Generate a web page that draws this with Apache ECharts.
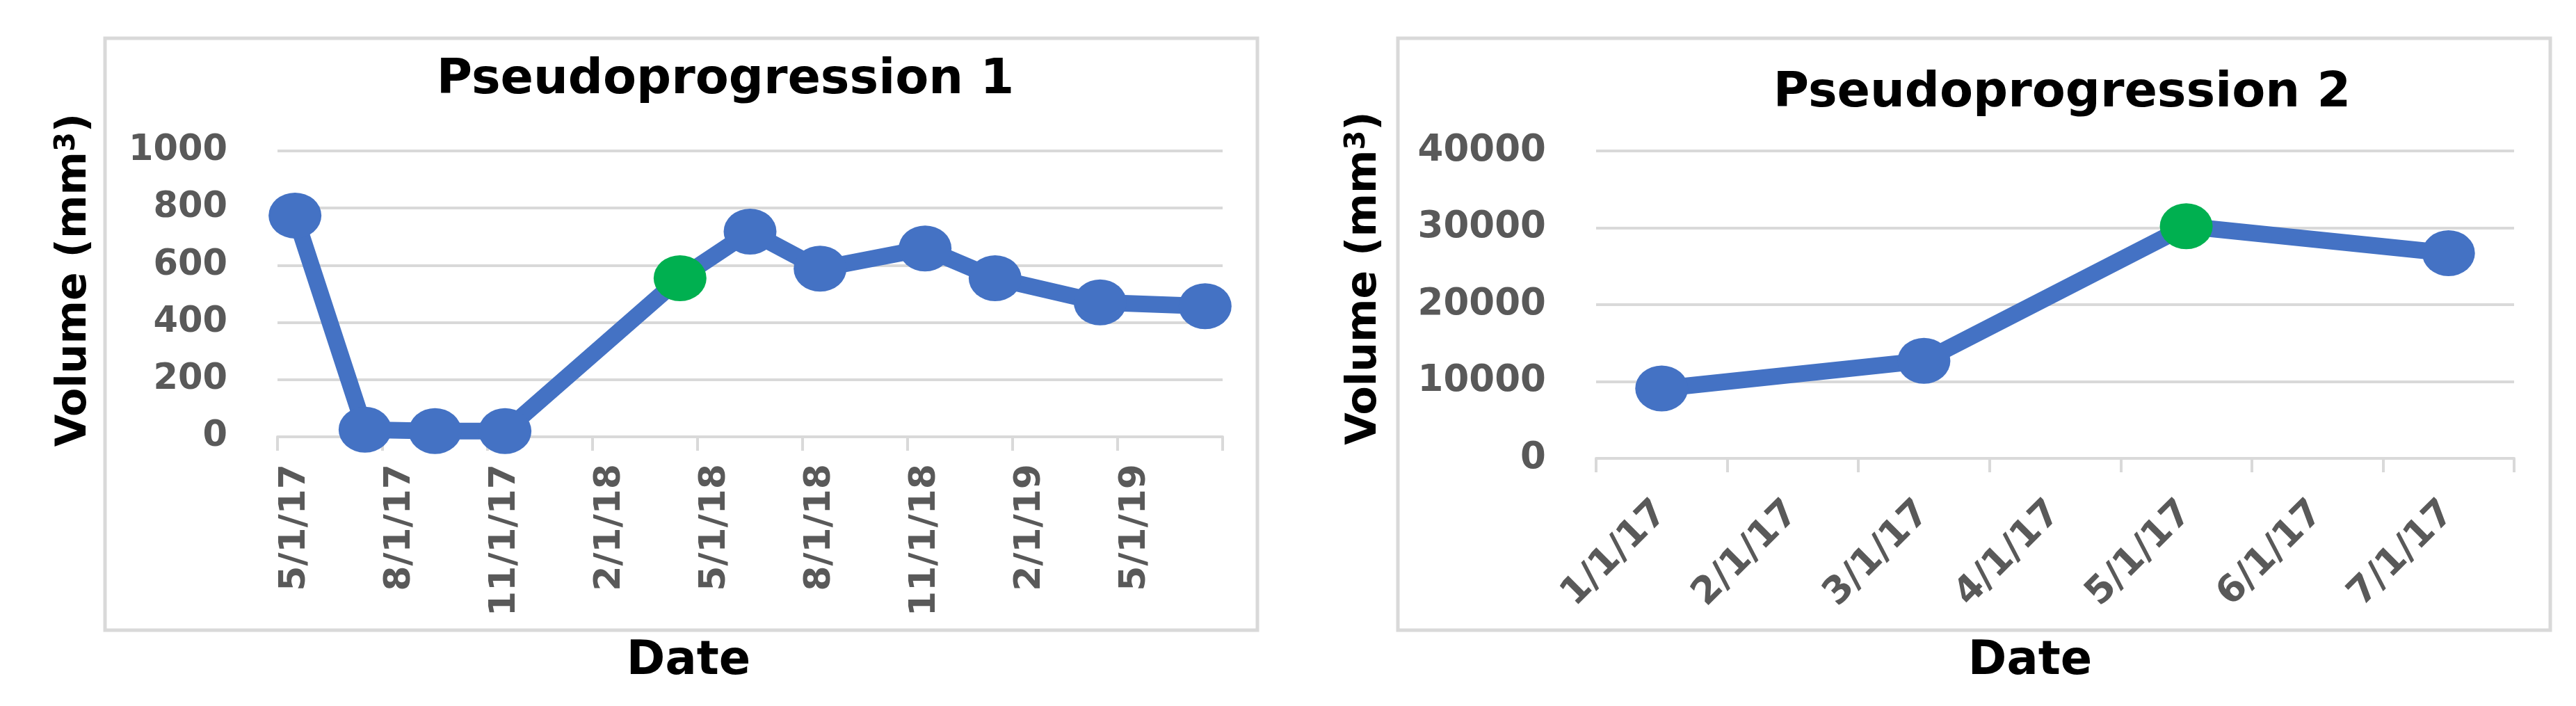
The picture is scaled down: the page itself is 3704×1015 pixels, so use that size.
<!DOCTYPE html>
<html><head><meta charset="utf-8">
<script src="https://cdn.jsdelivr.net/npm/echarts@6/dist/echarts.min.js"></script>
<style>html,body{margin:0;padding:0;background:#fff}#c{width:3704px;height:1015px}</style>
</head><body><div id="c"></div>
<script>
// ---- Data ----
const titles = ['Pseudoprogression 1', 'Pseudoprogression 2'];
const months1 = ['5/1/17','6/1/17','7/1/17','8/1/17','9/1/17','10/1/17','11/1/17','12/1/17',
  '1/1/18','2/1/18','3/1/18','4/1/18','5/1/18','6/1/18','7/1/18','8/1/18','9/1/18','10/1/18','11/1/18','12/1/18',
  '1/1/19','2/1/19','3/1/19','4/1/19','5/1/19','6/1/19','7/1/19'];
const scanDates1 = ['5/1/17','7/1/17','9/1/17','11/1/17','4/1/18','6/1/18','8/1/18','11/1/18','1/1/19','4/1/19','7/1/19'];
const volumes1 = [774, 25, 20, 20, 555, 718, 588, 659, 555, 470, 457];
const highlight1 = '4/1/18';

const months2 = ['1/1/17','2/1/17','3/1/17','4/1/17','5/1/17','6/1/17','7/1/17'];
const scanDates2 = ['1/1/17','3/1/17','5/1/17','7/1/17'];
const volumes2 = [9100, 12700, 30200, 26700];
const highlight2 = '5/1/17';

const yMax1 = 1000, yStep1 = 200;
const yMax2 = 40000, yStep2 = 10000;

// ---- Build ----
const BLUE = '#4472C4', GREEN = '#00B050', GRID = '#d9d9d9', LABEL = '#595959';
const FONT = 'DejaVu Sans';

function buildSeries(months, dates, vols, hi) {
  return months.map(m => {
    const i = dates.indexOf(m);
    if (i < 0) return null;
    return m === hi ? { value: vols[i], itemStyle: { color: GREEN } } : vols[i];
  });
}

const chart = echarts.init(document.getElementById('c'), null, { renderer: 'canvas' });

function yNameStyle(shift) {
  return { padding: [0, 0, 0, shift],
    rich: { b: { fontFamily: FONT, fontWeight: 'bold', fontSize: 60, color: '#000' },
            sup: { fontFamily: FONT, fontWeight: 'bold', fontSize: 40, color: '#000', verticalAlign: 'top' } } };
}

function xAxisCfg(idx, data, interval, rotate, margin, size) {
  return {
    type: 'category', gridIndex: idx, data: data, boundaryGap: true,
    axisLine: { lineStyle: { color: GRID, width: 4 } },
    axisTick: { show: true, interval: interval, length: 20, lineStyle: { color: GRID, width: 4 } },
    axisLabel: { interval: interval, rotate: rotate, margin: margin, color: LABEL,
                 fontFamily: FONT, fontWeight: 'bold', fontSize: size },
    splitLine: { show: false }
  };
}
function yAxisCfg(idx, max, step, gap, shift, size) {
  return {
    type: 'value', gridIndex: idx, min: 0, max: max, interval: step,
    name: '{b|Volume (mm}{sup|3}{b|)}', nameLocation: 'middle', nameGap: gap,
    nameTextStyle: yNameStyle(shift),
    axisLine: { show: false }, axisTick: { show: false },
    axisLabel: { margin: 72, color: LABEL, fontFamily: FONT, fontWeight: 'bold', fontSize: size,
                 formatter: v => String(v) },
    splitLine: { lineStyle: { color: GRID, width: 4 } }
  };
}
function lineSeries(idx, data) {
  return {
    type: 'line', xAxisIndex: idx, yAxisIndex: idx, data: data, connectNulls: true,
    symbol: 'circle', symbolSize: [76, 66], showSymbol: true, showAllSymbol: true,
    lineStyle: { color: BLUE, width: 24 }, itemStyle: { color: BLUE }, z: 3
  };
}

const titleStyle = { fontFamily: FONT, fontWeight: 'bold', fontSize: 70, color: '#000' };
const dateStyle = { fontFamily: FONT, fontWeight: 'bold', fontSize: 67, color: '#000' };

chart.setOption({
  backgroundColor: '#fff',
  animation: false,
  title: [
    { text: titles[0], left: 1038, top: 76, textAlign: 'center', textStyle: titleStyle },
    { text: titles[1], left: 2960, top: 95, textAlign: 'center', textStyle: titleStyle },
    { text: 'Date', left: 985, top: 913, textAlign: 'center', textStyle: dateStyle },
    { text: 'Date', left: 2914, top: 913, textAlign: 'center', textStyle: dateStyle }
  ],
  graphic: [
    { type: 'rect', shape: { x: 151, y: 55, width: 1657, height: 851 }, style: { fill: null, stroke: GRID, lineWidth: 5 }, z: -1 },
    { type: 'rect', shape: { x: 2010, y: 55, width: 1657, height: 851 }, style: { fill: null, stroke: GRID, lineWidth: 5 }, z: -1 }
  ],
  grid: [
    { left: 399, top: 217, width: 1359, height: 411 },
    { left: 2295, top: 217, width: 1320, height: 442 }
  ],
  xAxis: [ xAxisCfg(0, months1, 2, 90, 39, 52), xAxisCfg(1, months2, 0, 45, 70, 54) ],
  yAxis: [ yAxisCfg(0, yMax1, yStep1, 262, 40, 51), yAxisCfg(1, yMax2, yStep2, 303, 76, 53) ],
  series: [
    lineSeries(0, buildSeries(months1, scanDates1, volumes1, highlight1)),
    lineSeries(1, buildSeries(months2, scanDates2, volumes2, highlight2))
  ]
});
</script></body></html>
